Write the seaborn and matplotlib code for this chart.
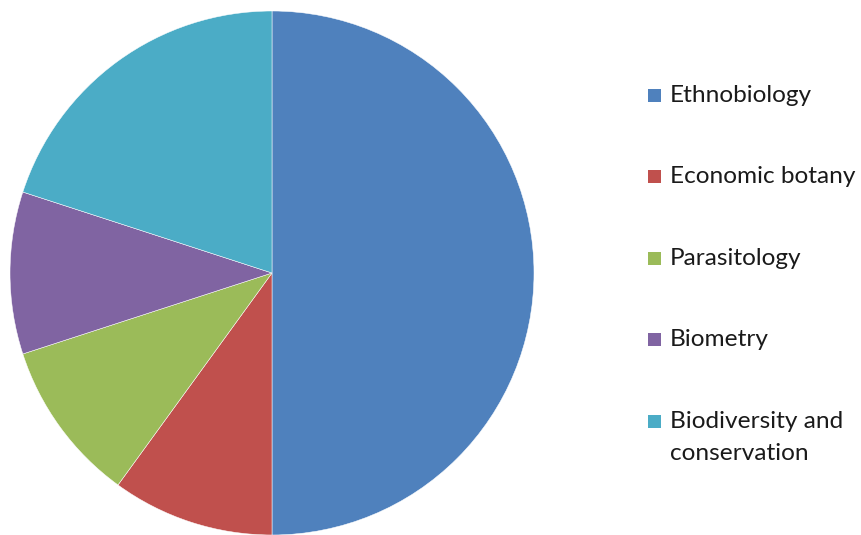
import matplotlib
matplotlib.use("Agg")
import matplotlib.pyplot as plt
from matplotlib.patches import Rectangle
import seaborn as sns

# Share of studies by research area
categories = ["Ethnobiology", "Economic botany", "Parasitology", "Biometry",
              "Biodiversity and\nconservation"]
shares = [50, 10, 10, 10, 20]
colors = ["#4F81BD", "#C0504D", "#9BBB59", "#8064A2", "#4BACC6"]

sns.set_theme(style="white")
plt.rcParams["font.family"] = ["Lato", "DejaVu Sans"]

W, H, DPI = 861, 535, 100
fig = plt.figure(figsize=(W / DPI, H / DPI), dpi=DPI)

# Pie placed by pixel centre and radius
cx, cy, r = 272, 273, 262
ax = fig.add_axes([(cx - r) / W, (H - cy - r) / H, 2 * r / W, 2 * r / H])
wedges, _ = ax.pie(shares, colors=colors, startangle=90, counterclock=False,
                   wedgeprops=dict(edgecolor="white", linewidth=0.35))
for w in wedges:
    w.set_clip_on(False)
ax.set_xlim(-1, 1)
ax.set_ylim(-1, 1)
ax.set_aspect("equal")
ax.axis("off")

# Legend: square swatch and label, rows ~81.5 px apart
baselines = [102, 183, 265, 346, 428]
line_gap = 32
sq = 13
for lab, col, base in zip(categories, colors, baselines):
    fig.add_artist(Rectangle((648 / W, (H - base) / H), sq / W, sq / H,
                             transform=fig.transFigure, facecolor=col,
                             edgecolor="none"))
    for i, line in enumerate(lab.split("\n")):
        fig.text(670 / W, (H - base - i * line_gap) / H, line, fontsize=17.6,
                 color="#1a1a1a", ha="left", va="baseline")

fig.savefig("out.png", dpi=DPI, facecolor="white")
